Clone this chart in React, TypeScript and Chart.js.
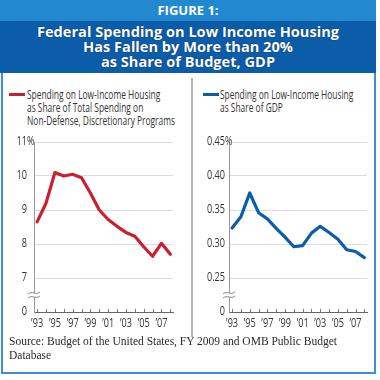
import React, { useEffect, useRef } from "react";
import { Chart, registerables } from "chart.js";
Chart.register(...registerables);

const YEARS = [1993, 1994, 1995, 1996, 1997, 1998, 1999, 2000, 2001, 2002, 2003, 2004, 2005, 2006, 2007, 2008];
const BUDGET_SHARE = [8.65, 9.2, 10.1, 10.0, 10.05, 9.95, 9.5, 9.0, 8.72, 8.52, 8.34, 8.23, 7.92, 7.64, 8.02, 7.7];
const GDP_SHARE = [0.3235, 0.34, 0.375, 0.346, 0.337, 0.323, 0.31, 0.296, 0.2975, 0.316, 0.326, 0.317, 0.307, 0.2915, 0.289, 0.28];
const X_LABEL_YEARS = [1993, 1995, 1997, 1999, 2001, 2003, 2005, 2007];
const LEFT_TICKS = [6, 7, 8, 9, 10, 11];
const LEFT_TICK_LABELS = ["0", "7", "8", "9", "10", "11"];
const RIGHT_TICKS = [0.2, 0.25, 0.3, 0.35, 0.4, 0.45];
const RIGHT_TICK_LABELS = ["0", "0.25", "0.30", "0.35", "0.40", "0.45"];

const LABEL_FONT = "12px 'Open Sans'";
const SQUEEZE = 0.76;

function makeDecor(ticks: number[], labels: string[], breakVal: number, labelGap: number) {
  return {
    id: "decor",
    afterDatasetsDraw(chart: any) {
      const { ctx, chartArea } = chart;
      const xs = chart.scales.x;
      const ys = chart.scales.y;
      ctx.save();
      ctx.strokeStyle = "#777";
      ctx.lineWidth = 1;
      YEARS.forEach((yr) => {
        const px = Math.round(xs.getPixelForValue(yr)) + 0.5;
        ctx.beginPath();
        ctx.moveTo(px, chartArea.bottom - 3);
        ctx.lineTo(px, chartArea.bottom);
        ctx.stroke();
      });
      ctx.fillStyle = "#333";
      ctx.font = LABEL_FONT;
      ctx.textBaseline = "middle";
      X_LABEL_YEARS.forEach((yr) => {
        const px = xs.getPixelForValue(yr);
        ctx.save();
        ctx.translate(px, chartArea.bottom + 12);
        ctx.scale(SQUEEZE, 1);
        ctx.textAlign = "center";
        ctx.fillText("\u2019" + String(yr).slice(2), 0, 0);
        ctx.restore();
      });
      ticks.forEach((v, i) => {
        const py = ys.getPixelForValue(v);
        ctx.save();
        ctx.translate(chartArea.left - labelGap, py);
        ctx.scale(SQUEEZE, 1);
        ctx.textAlign = "right";
        ctx.fillText(labels[i], 0, 0);
        if (i === ticks.length - 1) {
          ctx.textAlign = "left";
          ctx.fillText("%", 0, 0);
        }
        ctx.restore();
      });
      const by = ys.getPixelForValue(breakVal);
      const bx = chartArea.left;
      ctx.fillStyle = "#fff";
      ctx.fillRect(bx - 3, by - 2, 6, 4);
      ctx.strokeStyle = "#888";
      ctx.lineWidth = 1;
      [-2, 2].forEach((off) => {
        ctx.beginPath();
        ctx.moveTo(bx - 6, by + off + 1);
        ctx.bezierCurveTo(bx - 2, by + off - 2.5, bx + 2, by + off + 2.5, bx + 6, by + off - 1);
        ctx.stroke();
      });
      ctx.restore();
    },
  };
}

function LineChart(props: {
  values: number[];
  color: string;
  ticks: number[];
  labels: string[];
  breakVal: number;
  yWidth: number;
  padRight: number;
  labelGap: number;
}) {
  const ref = useRef<HTMLCanvasElement>(null);
  useEffect(() => {
    const { values, color, ticks, labels, breakVal, yWidth, padRight, labelGap } = props;
    const chart = new Chart(ref.current as HTMLCanvasElement, {
      type: "line",
      data: {
        datasets: [
          {
            data: YEARS.map((y, i) => ({ x: y, y: values[i] })),
            borderColor: color,
            borderWidth: 3.2,
            pointRadius: 0,
            tension: 0,
            borderJoinStyle: "round",
            borderCapStyle: "round",
          },
        ],
      },
      options: {
        animation: false,
        responsive: false,
        maintainAspectRatio: false,
        devicePixelRatio: 1,
        layout: { padding: { top: 12, right: padRight, bottom: 0, left: 0 } },
        plugins: { legend: { display: false }, tooltip: { enabled: false } },
        scales: {
          x: {
            type: "linear",
            min: 1992.65,
            max: 2008.3,
            grid: { display: false },
            border: { display: true, color: "#666", width: 1 },
            ticks: { display: false },
            afterFit: (s: any) => {
              s.height = 28;
            },
          },
          y: {
            type: "linear",
            min: ticks[0],
            max: ticks[ticks.length - 1],
            afterBuildTicks: (s: any) => {
              s.ticks = ticks.map((v) => ({ value: v }));
            },
            ticks: { display: false },
            grid: {
              color: (c: any) => (c.tick && c.tick.value === ticks[0] ? "rgba(0,0,0,0)" : "#dcdcdc"),
              lineWidth: 1,
              drawTicks: false,
            },
            border: { display: true, color: "#999", width: 1 },
            afterFit: (s: any) => {
              s.width = yWidth;
            },
          },
        },
      } as any,
      plugins: [makeDecor(ticks, labels, breakVal, labelGap)],
    });
    return () => chart.destroy();
  }, []);
  return <canvas ref={ref} width={190} height={210} style={{ width: 190, height: 210, display: "block" }} />;
}

const legendText: React.CSSProperties = {
  position: "absolute",
  fontFamily: "'Open Sans', sans-serif",
  fontSize: 12,
  lineHeight: "13px",
  color: "#333",
  whiteSpace: "nowrap",
  transform: "scaleX(0.7)",
  transformOrigin: "left top",
};

export default function App() {
  return (
    <div style={{ position: "absolute", left: 0, top: 0, width: 380, height: 380, background: "#fff", overflow: "hidden" }}>
      <div
        style={{
          position: "absolute",
          left: 1,
          top: 0,
          width: 375,
          height: 374,
          border: "2px solid #3b8fd4",
          borderTop: "none",
          boxSizing: "border-box",
        }}
      />
      <div style={{ position: "absolute", left: 0, top: 0, width: 376, height: 21, background: "#2289d1" }} />
      <div style={{ position: "absolute", left: 0, top: 21, width: 376, height: 52, background: "#0b5ca9" }} />
      <div
        style={{
          position: "absolute",
          left: 0,
          top: 2,
          width: 376,
          textAlign: "center",
          color: "#fff",
          fontFamily: "'Open Sans', sans-serif",
          fontWeight: 700,
          fontSize: 13,
          lineHeight: "17px",
        }}
      >
        FIGURE 1:
      </div>
      <div
        style={{
          position: "absolute",
          left: 0,
          top: 24,
          width: 376,
          textAlign: "center",
          color: "#fff",
          fontFamily: "'Open Sans', sans-serif",
          fontWeight: 700,
          fontSize: 14.6,
          lineHeight: "15px",
          textShadow: "0 0 1px #123",
        }}
      >
        Federal Spending on Low Income Housing
        <br />
        Has Fallen by More than 20%
        <br />
        as Share of Budget, GDP
      </div>

      <div style={{ position: "absolute", left: 191, top: 78, width: 2, height: 259, background: "#b4b4b4" }} />

      <div style={{ position: "absolute", left: 9, top: 93, width: 16, height: 3, background: "#c8202f" }} />
      <div style={{ ...legendText, left: 27, top: 88 }}>
        Spending on Low-Income Housing
        <br />
        as Share of Total Spending on
        <br />
        Non-Defense, Discretionary Programs
      </div>
      <div style={{ position: "absolute", left: 203, top: 93, width: 16, height: 3, background: "#0b5ca9" }} />
      <div style={{ ...legendText, left: 220, top: 88 }}>
        Spending on Low-Income Housing
        <br />
        as Share of GDP
      </div>

      <div style={{ position: "absolute", left: 0, top: 130 }}>
        <LineChart
          values={BUDGET_SHARE}
          color="#c8202f"
          ticks={LEFT_TICKS}
          labels={LEFT_TICK_LABELS}
          breakVal={6.5}
          yWidth={34}
          padRight={17}
          labelGap={7}
        />
      </div>
      <div style={{ position: "absolute", left: 190, top: 130 }}>
        <LineChart
          values={GDP_SHARE}
          color="#0b5ca9"
          ticks={RIGHT_TICKS}
          labels={RIGHT_TICK_LABELS}
          breakVal={0.225}
          yWidth={39}
          padRight={13}
          labelGap={4}
        />
      </div>

      <div
        style={{
          position: "absolute",
          left: 9,
          top: 334,
          width: 365,
          fontFamily: "'Liberation Serif', serif",
          fontSize: 11.5,
          lineHeight: "14px",
          color: "#2a2a2a",
          whiteSpace: "nowrap",
        }}
      >
        Source: Budget of the United States, FY 2009 and OMB Public Budget
        <br />
        Database
      </div>
    </div>
  );
}
